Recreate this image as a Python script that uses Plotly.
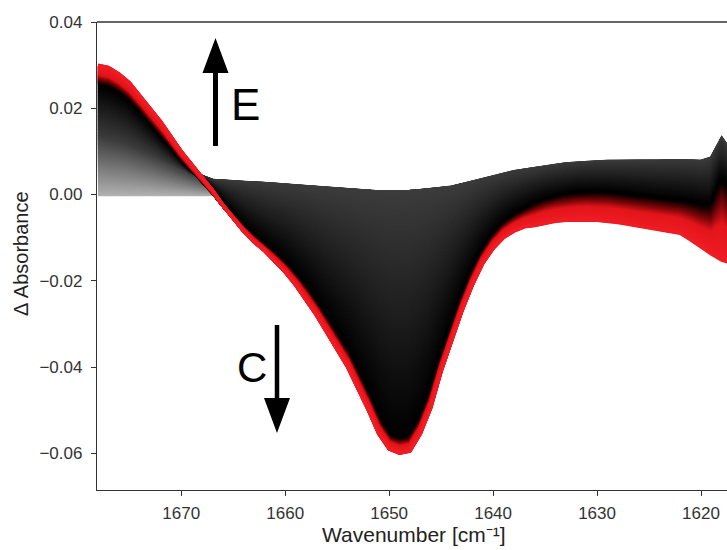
import numpy as np
import plotly.graph_objects as go

# ---------------- data ----------------
wavenumber = list(range(1678, 1616, -1))  # 1678 ... 1617 cm-1

# earliest spectrum: flat baseline
spec_start = [0.0] * len(wavenumber)

# intermediate (dark-grey) spectrum: positive left wing, near-zero band, positive right side
spec_grey = [0.014, 0.0135, 0.0128, 0.012, 0.011, 0.010, 0.0088, 0.0076, 0.0064, 0.0052,
             0.0042, 0.0033, 0.0031, 0.0030, 0.0028, 0.0027, 0.0026, 0.0024, 0.0022, 0.0020,
             0.0018, 0.0016, 0.0014, 0.0012, 0.0010, 0.0008, 0.0007, 0.0006, 0.0006, 0.0006,
             0.0007, 0.0009, 0.0011, 0.0013, 0.0017, 0.0023, 0.0029, 0.0036, 0.0042, 0.0048,
             0.0053, 0.0057, 0.0061, 0.0065, 0.0068, 0.0071, 0.0073, 0.0075, 0.0076, 0.0077,
             0.0077, 0.0078, 0.0078, 0.0078, 0.0078, 0.0079, 0.0079, 0.0078, 0.0077, 0.0085,
             0.0130, 0.0095]

# late (black) spectrum
spec_black = [0.026, 0.0255, 0.0243, 0.0225, 0.020, 0.0172, 0.0145, 0.0115, 0.0085, 0.0058,
              0.0032, 0.0005, -0.0025, -0.0052, -0.0078, -0.010, -0.012, -0.014, -0.0163, -0.019,
              -0.022, -0.0255, -0.0293, -0.033, -0.037, -0.042, -0.047, -0.0525, -0.0562, -0.057,
              -0.0565, -0.0525, -0.0465, -0.0385, -0.0315, -0.0245, -0.0185, -0.0135, -0.0098, -0.0070,
              -0.0052, -0.0038, -0.0025, -0.0015, -0.0008, -0.0003, 0.0, 0.0002, 0.0002, 0.0001,
              -0.0002, -0.0005, -0.0008, -0.0010, -0.0012, -0.0015, -0.0018, -0.0022, -0.0028, -0.0030,
              0.0030, -0.0010]

# final (red) spectrum
spec_red = [0.030, 0.0295, 0.028, 0.026, 0.023, 0.020, 0.017, 0.0135, 0.010, 0.007,
            0.004, 0.001, -0.0025, -0.0055, -0.0085, -0.011, -0.013, -0.0155, -0.018, -0.021,
            -0.0245, -0.028, -0.032, -0.036, -0.040, -0.045, -0.050, -0.0555, -0.059, -0.060,
            -0.0595, -0.0555, -0.0495, -0.041, -0.034, -0.027, -0.021, -0.016, -0.0125, -0.010,
            -0.0085, -0.0075, -0.0072, -0.0066, -0.0062, -0.0060, -0.0059, -0.0059, -0.0060, -0.0062,
            -0.0065, -0.0069, -0.0073, -0.0077, -0.0081, -0.0085, -0.0090, -0.0105, -0.0122, -0.0138,
            -0.0152, -0.0160]

key_times = [0.0, 0.40, 0.78, 1.0]
key_spectra = [spec_start, spec_grey, spec_black, spec_red]

x_ticks = [1670, 1660, 1650, 1640, 1630, 1620]
y_ticks = [-0.06, -0.04, -0.02, 0.00, 0.02, 0.04]
y_tick_text = ["\u22120.06", "\u22120.04", "\u22120.02", "0.00", "0.02", "0.04"]

# ---------------- styling ----------------
color_stops = [(0.0, (178, 178, 178)), (0.40, (60, 60, 60)), (0.65, (20, 20, 20)),
               (0.78, (0, 0, 0)), (0.85, (130, 8, 10)), (0.90, (226, 22, 27)), (1.0, (238, 28, 36))]


def color_at(t):
    for (t0, c0), (t1, c1) in zip(color_stops[:-1], color_stops[1:]):
        if t <= t1:
            f = 0 if t1 == t0 else (t - t0) / (t1 - t0)
            c = [round(a + (b - a) * f) for a, b in zip(c0, c1)]
            return "rgb(%d,%d,%d)" % tuple(c)
    return "rgb(%d,%d,%d)" % color_stops[-1][1]


def spectrum_at(t):
    ks = [np.array(k) for k in key_spectra]
    for i in range(len(key_times) - 1):
        if t <= key_times[i + 1]:
            f = (t - key_times[i]) / (key_times[i + 1] - key_times[i])
            return ks[i] + (ks[i + 1] - ks[i]) * f
    return ks[-1]


n_curves = 320
fig = go.Figure()
for i in range(n_curves):
    t = i / (n_curves - 1)
    fig.add_trace(go.Scatter(x=wavenumber, y=spectrum_at(t), mode="lines",
                             line=dict(color=color_at(t), width=3.4),
                             hoverinfo="skip", showlegend=False))

# plot-area pixel geometry
L, R, T, B = 97, 727, 22, 490


def px(x):
    return (x - L) / (R - L)


def py(y):
    return (B - y) / (B - T)


def arrow_path(xc, y_tail, y_base, y_tip, shaft_w, head_w):
    hw = shaft_w / 2
    hh = head_w / 2
    pts = [(xc - hw, y_tail), (xc - hw, y_base), (xc - hh, y_base), (xc, y_tip),
           (xc + hh, y_base), (xc + hw, y_base), (xc + hw, y_tail)]
    return "M " + " L ".join("%.5f,%.5f" % (px(a), py(b)) for a, b in pts) + " Z"


shapes = [
    dict(type="path", xref="paper", yref="paper", path=arrow_path(215.5, 146, 73, 38, 5, 26),
         fillcolor="black", line=dict(width=0)),
    dict(type="path", xref="paper", yref="paper", path=arrow_path(277, 325, 398, 433, 4.5, 26),
         fillcolor="black", line=dict(width=0)),
    dict(type="line", xref="paper", yref="paper", x0=0, x1=1, y0=1, y1=1,
         line=dict(color="#333333", width=1.3)),
]

font_family = "Liberation Sans, Arial, Helvetica, sans-serif"
annotations = [
    dict(text="E", x=px(245), y=py(104), xref="paper", yref="paper", showarrow=False,
         font=dict(size=44, color="black", family=font_family), xanchor="center", yanchor="middle"),
    dict(text="C", x=px(252), y=py(367), xref="paper", yref="paper", showarrow=False,
         font=dict(size=42, color="black", family=font_family), xanchor="center", yanchor="middle"),
    dict(text="Wavenumber [cm\u207b\u00b9]", x=px(414), y=py(548), xref="paper", yref="paper",
         showarrow=False, font=dict(size=21, color="#222222", family=font_family),
         xanchor="center", yanchor="bottom"),
    dict(text="\u0394 Absorbance", x=px(21), y=py(254), xref="paper", yref="paper",
         showarrow=False, textangle=-90, font=dict(size=20, color="#222222", family=font_family),
         xanchor="center", yanchor="middle"),
]

fig.update_layout(
    width=727, height=550,
    margin=dict(l=L, r=0, t=T, b=550 - B, pad=0),
    paper_bgcolor="white", plot_bgcolor="white",
    font=dict(family=font_family, size=17, color="#333333"),
    shapes=shapes, annotations=annotations,
    xaxis=dict(range=[1678.1, 1617.5], tickvals=x_ticks, ticks="outside", ticklen=5,
               tickcolor="#333333", showline=True, linecolor="#333333", linewidth=1.3,
               showgrid=False, zeroline=False, tickfont=dict(size=17, color="#333333"),
               ticklabelstandoff=2),
    yaxis=dict(range=[-0.0685, 0.04], tickvals=y_ticks, ticktext=y_tick_text, ticks="outside",
               ticklen=5, tickcolor="#333333", showline=True, linecolor="#333333", linewidth=1.3,
               showgrid=False, zeroline=False, tickfont=dict(size=17, color="#333333"),
               ticklabelstandoff=5),
)

fig.write_html("out.html")
